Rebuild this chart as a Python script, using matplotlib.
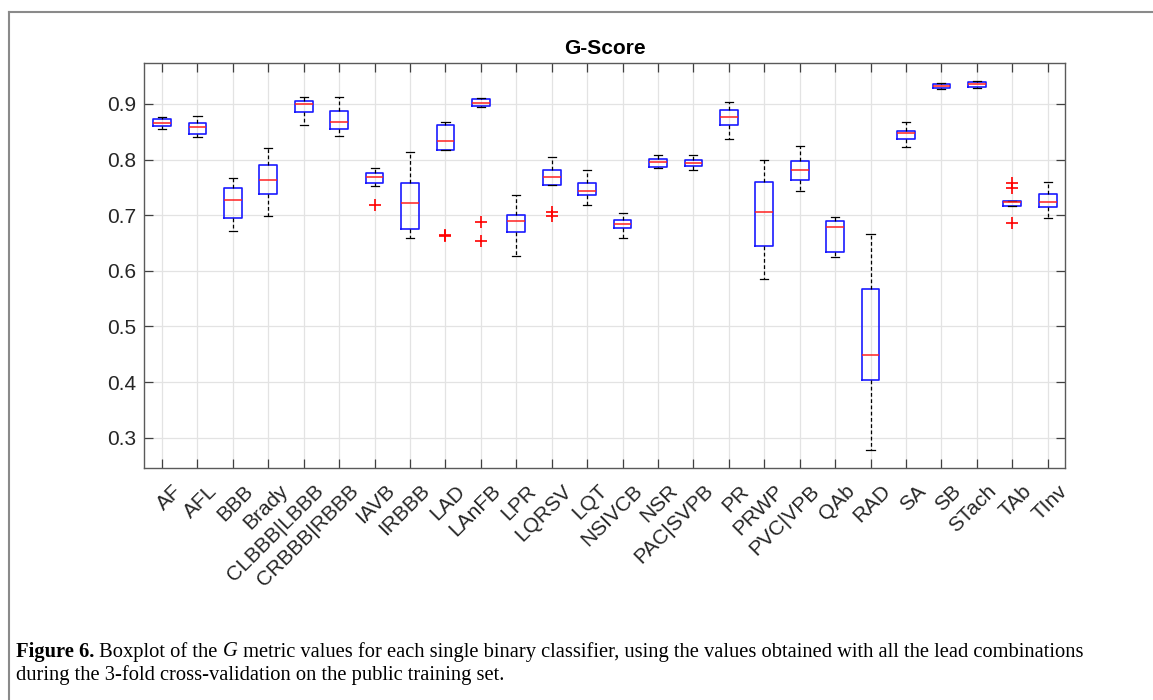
import matplotlib
matplotlib.use("Agg")
import matplotlib.pyplot as plt
import matplotlib.transforms as mtransforms
from matplotlib.lines import Line2D

plt.rcParams['font.family'] = ['Liberation Sans', 'DejaVu Sans']

labels = ["AF", "AFL", "BBB", "Brady", "CLBBB|LBBB", "CRBBB|RBBB", "IAVB", "IRBBB",
          "LAD", "LAnFB", "LPR", "LQRSV", "LQT", "NSIVCB", "NSR", "PAC|SVPB", "PR",
          "PRWP", "PVC|VPB", "QAb", "RAD", "SA", "SB", "STach", "TAb", "TInv"]

whishi = [0.877, 0.879, 0.767, 0.820, 0.912, 0.912, 0.785, 0.814, 0.868, 0.911, 0.737, 0.805, 0.781,
          0.703, 0.808, 0.808, 0.904, 0.799, 0.825, 0.696, 0.666, 0.868, 0.937, 0.941, 0.725, 0.760]
q3 = [0.872, 0.866, 0.749, 0.790, 0.905, 0.887, 0.776, 0.758, 0.862, 0.908, 0.700, 0.781, 0.758,
      0.691, 0.801, 0.800, 0.889, 0.760, 0.797, 0.690, 0.567, 0.851, 0.935, 0.940, 0.725, 0.738]
med = [0.866, 0.859, 0.728, 0.764, 0.900, 0.868, 0.768, 0.722, 0.834, 0.902, 0.689, 0.768, 0.744,
       0.685, 0.796, 0.793, 0.876, 0.705, 0.782, 0.678, 0.448, 0.847, 0.932, 0.936, 0.723, 0.724]
q1 = [0.861, 0.845, 0.694, 0.738, 0.886, 0.854, 0.757, 0.675, 0.818, 0.896, 0.670, 0.755, 0.736,
      0.677, 0.787, 0.789, 0.862, 0.645, 0.764, 0.634, 0.404, 0.836, 0.929, 0.931, 0.716, 0.714]
whislo = [0.854, 0.841, 0.672, 0.699, 0.862, 0.842, 0.752, 0.659, 0.818, 0.894, 0.626, 0.755, 0.719,
          0.659, 0.784, 0.781, 0.837, 0.586, 0.744, 0.624, 0.277, 0.823, 0.927, 0.928, 0.716, 0.695]
fliers = [[], [], [], [], [], [], [0.718], [], [0.663, 0.664], [0.688, 0.653], [], [0.706, 0.698], [],
          [], [], [], [], [], [], [], [], [], [], [], [0.757, 0.748, 0.686], []]

yticks = [0.3, 0.4, 0.5, 0.6, 0.7, 0.8, 0.9]

stats = []
for i in range(len(labels)):
    stats.append({"label": labels[i], "med": med[i], "q1": q1[i], "q3": q3[i],
                  "whislo": whislo[i], "whishi": whishi[i], "fliers": fliers[i]})

fig = plt.figure(figsize=(11.53, 7), dpi=100)
ax = fig.add_axes([0.1252, 0.331, 0.7988, 0.5794])

pos = list(range(1, len(labels) + 1))
ax.bxp(stats, positions=pos, widths=0.5, capwidths=0.23, showfliers=True,
       boxprops=dict(color="#1a1aff", linewidth=1.2),
       medianprops=dict(color="#ff2020", linewidth=1.1),
       whiskerprops=dict(color="black", linestyle=(0, (3, 2)), linewidth=0.9),
       capprops=dict(color="black", linewidth=0.9),
       flierprops=dict(marker="+", markeredgecolor="red", markersize=8, markeredgewidth=1.2))

ax.set_xlim(0.5, len(labels) + 0.5)
ax.set_ylim(0.245, 0.974)
ax.set_yticks(yticks)
ax.set_yticklabels([f"{v:.1f}" for v in yticks], fontsize=15, color="#262626")
ax.set_xticks(pos)
ax.set_xticklabels([])

# rotated category labels, MATLAB-like placement
trans = mtransforms.blended_transform_factory(ax.transData, ax.transAxes)
off = mtransforms.ScaledTranslation(0.10, -0.13, fig.dpi_scale_trans)
for p, lab in zip(pos, labels):
    ax.text(p, 0, lab, transform=trans + off, fontsize=15, color="#262626",
            rotation=45, ha="right", va="top", rotation_mode="anchor")

ax.grid(True, color="#e3e3e3", linewidth=0.9)
ax.set_axisbelow(True)
ax.tick_params(direction="in", length=6.5, width=0.9, color="#404040",
               top=True, right=True)
ax.tick_params(axis="y", pad=6)
for s in ax.spines.values():
    s.set_color("#5a5a5a")
    s.set_linewidth(1.0)

ax.set_title("G-Score", fontsize=15, fontweight="bold", pad=6)

# page frame
fig.add_artist(Line2D([0.0078, 0.0078], [0, 0.983], color="#8a8a8a", linewidth=1.5,
                      transform=fig.transFigure))
fig.add_artist(Line2D([0.0078, 1.0], [0.983, 0.983], color="#8a8a8a", linewidth=1.5,
                      transform=fig.transFigure))

# caption with mixed styles
fig.canvas.draw()
renderer = fig.canvas.get_renderer()
serif = ['Liberation Serif', 'DejaVu Serif']
cap_size = 14.8
x0 = 16 / 1153
y1 = 1 - 652 / 700
pieces = [("Figure 6.", "bold", "normal"), (" Boxplot of the ", "normal", "normal"),
          ("G", "normal", "italic"),
          (" metric values for each single binary classifier, using the values obtained with all the lead combinations",
           "normal", "normal")]
x = x0
for txt, w, st in pieces:
    t = fig.text(x, y1, txt, fontsize=cap_size, fontweight=w, fontstyle=st,
                 family=serif, va="center", ha="left")
    bb = t.get_window_extent(renderer)
    x = x + bb.width / fig.bbox.width
fig.text(x0, 1 - 675 / 700, "during the 3-fold cross-validation on the public training set.",
         fontsize=cap_size, family=serif, va="center", ha="left")

fig.savefig("out.png", dpi=100)
